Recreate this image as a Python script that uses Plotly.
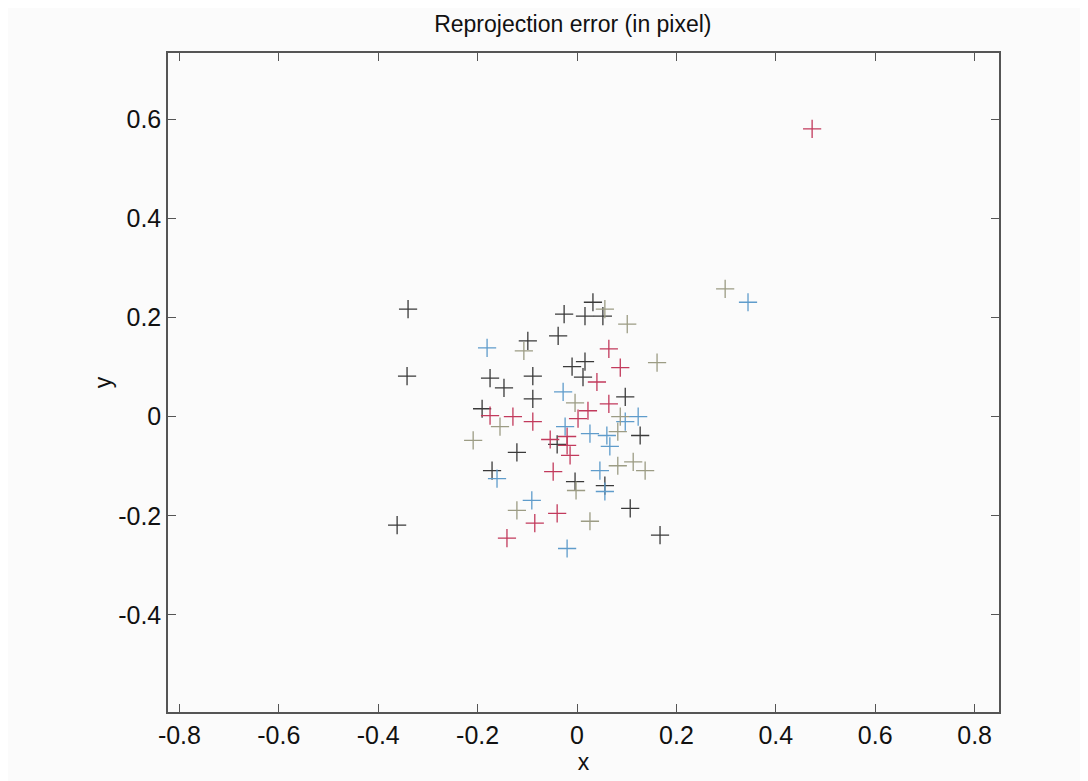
import plotly.graph_objects as go

# Reprojection error points (x, y in pixel), by colour group
black_x = [-0.340, -0.026, -0.038, -0.099, 0.032, 0.016, 0.052, -0.342, -0.175, -0.147,
           -0.089, -0.010, -0.089, -0.191, -0.040, -0.121, -0.171, -0.004, -0.362, 0.016,
           0.012, 0.097, 0.127, 0.056, 0.107, 0.167]
black_y = [0.217, 0.207, 0.163, 0.153, 0.231, 0.203, 0.203, 0.082, 0.078, 0.058,
           0.082, 0.101, 0.036, 0.016, -0.056, -0.072, -0.109, -0.131, -0.219, 0.111,
           0.080, 0.040, -0.038, -0.139, -0.185, -0.239]

red_x = [0.473, 0.064, 0.087, 0.040, 0.064, 0.022, 0.002, -0.175, -0.129, -0.089,
         -0.054, -0.020, -0.020, -0.014, -0.048, -0.040, -0.085, -0.141]
red_y = [0.581, 0.137, 0.099, 0.070, 0.026, 0.012, -0.004, 0.002, 0.000, -0.010,
         -0.046, -0.040, -0.058, -0.078, -0.111, -0.195, -0.215, -0.245]

blue_x = [-0.181, -0.028, -0.024, -0.161, -0.091, -0.020, 0.123, 0.097, 0.026, 0.060,
          0.066, 0.046, 0.056, 0.344]
blue_y = [0.139, 0.050, -0.020, -0.125, -0.169, -0.266, 0.000, -0.010, -0.034, -0.038,
          -0.060, -0.109, -0.151, 0.231]

khaki_x = [-0.107, -0.004, -0.155, -0.209, -0.121, 0.161, 0.298, 0.056, 0.101, 0.087,
           0.082, 0.082, 0.113, 0.137, -0.002, 0.026]
khaki_y = [0.133, 0.028, -0.020, -0.048, -0.189, 0.109, 0.258, 0.217, 0.187, 0.000,
           -0.030, -0.099, -0.091, -0.109, -0.149, -0.211]

x_ticks = [-0.8, -0.6, -0.4, -0.2, 0, 0.2, 0.4, 0.6, 0.8]
y_ticks = [-0.4, -0.2, 0, 0.2, 0.4, 0.6]

groups = [
    (black_x, black_y, "#3a3a3a"),
    (red_x, red_y, "#c23a5c"),
    (blue_x, blue_y, "#5f9ccb"),
    (khaki_x, khaki_y, "#9c9c84"),
]

FONT = "Liberation Sans, Arial, sans-serif"

fig = go.Figure()
for gx, gy, col in groups:
    fig.add_trace(go.Scatter(
        x=gx, y=gy, mode="markers",
        marker=dict(symbol="cross-thin-open", size=13, color=col,
                    line=dict(color=col, width=1.3)),
        showlegend=False, hoverinfo="x+y"))

axis_common = dict(
    showgrid=False, zeroline=False, showline=True, linecolor="#555555", linewidth=1.5,
    mirror="ticks", ticks="inside", ticklen=8, tickwidth=1.2, tickcolor="#555555",
    tickfont=dict(family=FONT, size=25, color="#111111"),
)

fig.update_layout(
    width=1080, height=773,
    margin=dict(l=160, r=89, t=45, b=67),
    paper_bgcolor="#fbfbfb", plot_bgcolor="#fbfbfb",
    title=dict(text="Reprojection error (in pixel)", x=0.523, xanchor="center",
               y=0.979, yanchor="middle",
               font=dict(family=FONT, size=23, color="#111111")),
    xaxis=dict(range=[-0.823, 0.849], tickvals=x_ticks,
               ticktext=[f"{v:g}" for v in x_ticks],
               title=dict(text="x", standoff=4,
                          font=dict(family=FONT, size=23, color="#111111")),
               **axis_common),
    yaxis=dict(range=[-0.596, 0.734], tickvals=y_ticks,
               ticktext=[f"{v:g}" for v in y_ticks],
               title=dict(text="y", standoff=0,
                          font=dict(family=FONT, size=23, color="#111111")),
               **axis_common),
)

fig.write_html("out.html")
